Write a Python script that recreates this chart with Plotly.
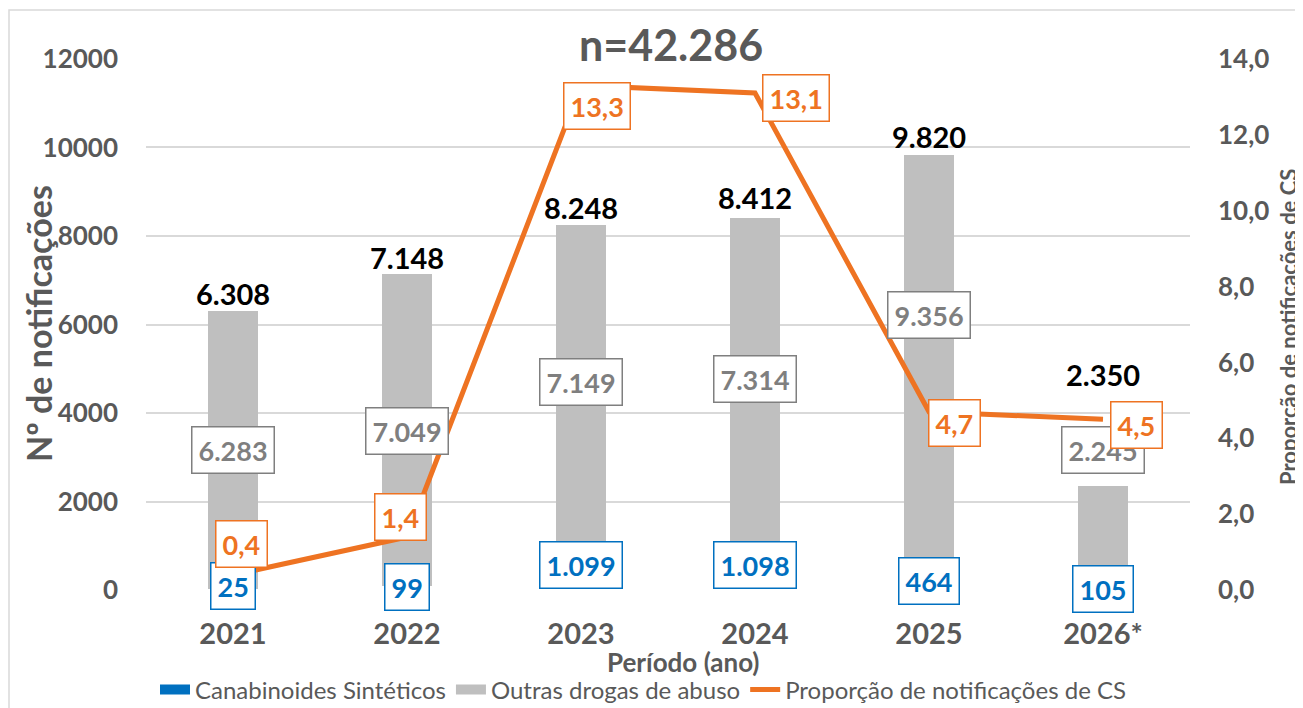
import plotly.graph_objects as go

years = ["2021", "2022", "2023", "2024", "2025", "2026*"]
cs_values = [25, 99, 1099, 1098, 464, 105]
other_values = [6283, 7049, 7149, 7314, 9356, 2245]
totals = [6308, 7148, 8248, 8412, 9820, 2350]
proportion = [0.4, 1.4, 13.3, 13.1, 4.7, 4.5]
total_text = ["6.308", "7.148", "8.248", "8.412", "9.820", "2.350"]
cs_text = ["25", "99", "1.099", "1.098", "464", "105"]
other_text = ["6.283", "7.049", "7.149", "7.314", "9.356", "2.245"]
prop_text = ["0,4", "1,4", "13,3", "13,1", "4,7", "4,5"]
title_text = "n=42.286"

# label placement (axis units / pixel shifts)
total_label_y = [6709, 7519, 8645, 8870, 10243, 4863]
other_label_y = [3175, 3600, 4705, 4780, 6213, 3175]
cs_label_y = [90, 70, 563, 563, 200, 20]
prop_label_y = [1.21, 1.92, 12.77, 12.98, 4.41, 4.36]
prop_label_dx = [8, -7, 16, 41, 25, 33]

BLUE = "#0070C0"
GRAY = "#BFBFBF"
ORANGE = "#EE7322"
TXT = "#595959"
FONT = "Lato"

OFF = 8  # page body margin
W, H = 1303 - OFF, 708 - OFF
L, R, T, B = 146 - OFF, 113, 58 - OFF, 708 - 591
PW, PH = W - L - R, H - T - B


def f(size, color, bold=True):
    return dict(family=FONT, size=size, color=color, weight="bold" if bold else "normal")


def px(xp):
    return (xp - OFF - L) / PW


def py(yp):
    return (H - B - (yp - OFF)) / PH


fig = go.Figure()
fig.add_trace(go.Bar(x=years, y=cs_values, marker=dict(color="white", line=dict(width=0)),
                     showlegend=False, hoverinfo="skip"))
fig.add_trace(go.Bar(x=years, y=other_values, marker=dict(color=GRAY, line=dict(width=0)),
                     name="Outras drogas de abuso", showlegend=False))
fig.add_trace(go.Scatter(x=years, y=proportion, yaxis="y2", mode="lines",
                         line=dict(color=ORANGE, width=5), showlegend=False))
# legend entries
fig.add_trace(go.Scatter(x=[years[0]], y=[None], mode="lines", line=dict(color=BLUE, width=11),
                         name="Canabinoides Sintéticos"))
fig.add_trace(go.Scatter(x=[years[0]], y=[None], mode="lines", line=dict(color=GRAY, width=11),
                         name="Outras drogas de abuso"))
fig.add_trace(go.Scatter(x=[years[0]], y=[None], mode="lines", line=dict(color=ORANGE, width=5),
                         name="Proporção de notificações de CS"))

ann = []
for i, yr in enumerate(years):
    ann.append(dict(x=i, y=total_label_y[i], text=total_text[i], showarrow=False,
                    font=f(29, "black")))
    ann.append(dict(x=i, y=other_label_y[i], text=other_text[i], showarrow=False,
                    font=f(27, "#7F7F7F"), bgcolor="white",
                    bordercolor="#7F7F7F", borderwidth=1.5, borderpad=6))
    ann.append(dict(x=i, y=cs_label_y[i], text=cs_text[i], showarrow=False,
                    font=f(27, BLUE), bgcolor="white",
                    bordercolor=BLUE, borderwidth=1.5, borderpad=6))
    ann.append(dict(x=i, y=prop_label_y[i], yref="y2", xshift=prop_label_dx[i],
                    text=prop_text[i], showarrow=False,
                    font=f(27, ORANGE), bgcolor="white",
                    bordercolor=ORANGE, borderwidth=1.5, borderpad=6))

ann.append(dict(xref="paper", yref="paper", x=px(671), y=py(45), xanchor="center", yanchor="middle",
                text=title_text, showarrow=False, font=f(43, TXT)))
ann.append(dict(xref="paper", yref="paper", x=px(38), y=py(324), xanchor="center", yanchor="middle",
                text="Nº de notificações", textangle=-90, showarrow=False, font=f(34, TXT)))
ann.append(dict(xref="paper", yref="paper", x=px(1288), y=py(327), xanchor="center", yanchor="middle",
                text="Proporção de notificações de CS", textangle=-90, showarrow=False,
                font=f(22, TXT)))
ann.append(dict(xref="paper", yref="paper", x=px(683), y=py(662), xanchor="center", yanchor="middle",
                text="Período (ano)", showarrow=False, font=f(26, TXT)))

fig.update_layout(
    width=W, height=H,
    margin=dict(l=L, r=R, t=T, b=B, autoexpand=False),
    plot_bgcolor="white", paper_bgcolor="white",
    barmode="stack", bargap=0.71,
    annotations=ann,
    xaxis=dict(type="category", categoryorder="array", categoryarray=years, range=[-0.5, 5.5],
               showgrid=False, tickfont=f(29, TXT), ticklabelstandoff=23),
    yaxis=dict(range=[-20, 12020], tickvals=[0, 2000, 4000, 6000, 8000, 10000, 12000],
               showgrid=True, gridcolor="#D9D9D9", gridwidth=1.5,
               zeroline=False, tickformat="d", ticklabelstandoff=27, tickfont=f(26, TXT)),
    yaxis2=dict(range=[-20 / 12000 * 14, 14 + 20 / 12000 * 14], tickvals=[0, 2, 4, 6, 8, 10, 12, 14],
                overlaying="y", side="right", showgrid=False,
                zeroline=False, tickformat=".1f", ticklabelstandoff=27, tickfont=f(26, TXT)),
    separators=",.",
    legend=dict(orientation="h", x=px(643), xanchor="center",
                y=py(690), yanchor="middle", traceorder="normal",
                font=f(24, TXT, bold=False), itemwidth=30, tracegroupgap=0,
                bgcolor="rgba(0,0,0,0)"),
    shapes=[dict(type="rect", xref="paper", yref="paper", x0=px(9), x1=px(1310), y0=py(715), y1=py(10),
                 line=dict(color="#D9D9D9", width=1.5), fillcolor="rgba(0,0,0,0)", layer="below")],
)

fig.write_html("out.html")
